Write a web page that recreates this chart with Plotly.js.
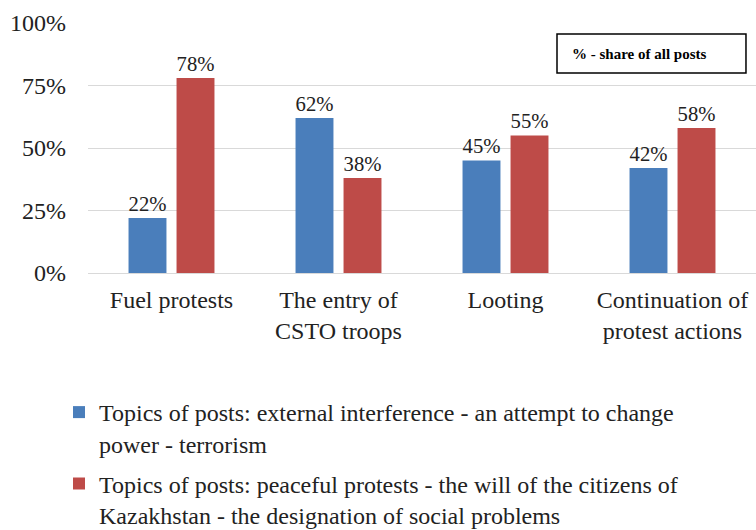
<!DOCTYPE html>
<html>
<head>
<meta charset="utf-8">
<script src="https://cdn.plot.ly/plotly-3.0.1.min.js"></script>
<style>
html,body{margin:0;padding:0;background:#fff;}
#chart{width:756px;height:530px;}
#chart svg text, #chart svg tspan{font-family:'Liberation Serif','Times New Roman',serif !important;}
</style>
</head>
<body>
<div id="chart"></div>
<script>
const categories = ["Fuel protests", "The entry of<br>CSTO troops", "Looting", "Continuation of<br>protest actions"];
const seriesNames = [
  "Topics of posts: external interference - an attempt to change<br>power - terrorism",
  "Topics of posts: peaceful protests - the will of the citizens of<br>Kazakhstan - the designation of social problems"
];
const externalValues = [22, 62, 45, 42];
const peacefulValues = [78, 38, 55, 58];
const yTickValues = [0, 25, 50, 75, 100];
const yTickLabels = ["0%", "25%", "50%", "75%", "100%"];
const noteText = "% - share of all posts";

const FAM = "Liberation Serif";
const colors = ["#4A7EBB", "#BE4B48"];

const traces = [externalValues, peacefulValues].map((vals, i) => ({
  type: "bar",
  x: categories,
  y: vals,
  name: seriesNames[i],
  legendgroup: "g" + i,
  marker: {color: colors[i]},
  text: vals.map(v => v + "%"),
  textposition: "outside",
  textfont: {family: FAM, size: 24},
  cliponaxis: false,
  hoverinfo: "skip"
}));

const layout = {
  width: 756, height: 530,
  margin: {l: 88, r: 0, t: 23, b: 257, autoexpand: false},
  font: {family: FAM, size: 24, color: "#222"},
  barmode: "group",
  bargap: 0.425,
  bargroupgap: 0.21,
  showlegend: true,
  legend: {
    x: -0.0434, xanchor: "left",
    y: -1.056, yanchor: "bottom",
    font: {family: FAM, size: 24},
    valign: "top",
    traceorder: "grouped",
    tracegroupgap: 6
  },
  xaxis: {
    tickfont: {family: FAM, size: 24},
    showgrid: false, showline: false, ticks: "",
    ticklabelstandoff: 10
  },
  yaxis: {
    range: [0, 100],
    tickvals: yTickValues,
    ticktext: yTickLabels,
    tickfont: {family: FAM, size: 24},
    showgrid: true, gridcolor: "#D9D9D9", gridwidth: 1,
    zeroline: true, zerolinecolor: "#D9D9D9", zerolinewidth: 1,
    showline: false, ticks: "",
    ticklabelstandoff: 21
  },
  shapes: [{
    type: "rect", xref: "paper", yref: "paper",
    x0: 0.7021, x1: 0.985, y0: 0.8, y1: 0.956,
    line: {color: "#000", width: 1.5}, fillcolor: "rgba(0,0,0,0)"
  }],
  annotations: [{
    xref: "paper", yref: "paper",
    x: 0.7216, y: 0.878, xanchor: "left", yanchor: "middle",
    text: "<b>" + noteText + "</b>",
    showarrow: false,
    font: {family: FAM, size: 15, color: "#000"}
  }]
};

Plotly.newPlot("chart", traces, layout, {staticPlot: true});
</script>
</body>
</html>
